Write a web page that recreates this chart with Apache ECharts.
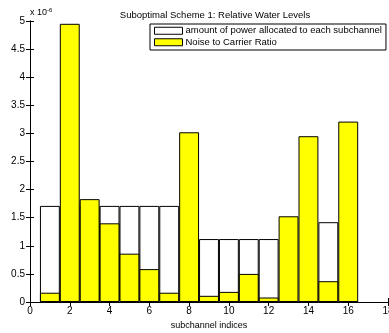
<!DOCTYPE html>
<html>
<head>
<meta charset="utf-8">
<script src="https://cdn.jsdelivr.net/npm/echarts@6/dist/echarts.min.js"></script>
<style>
 html, body { margin: 0; padding: 0; background: #fff; }
 #chart { width: 389px; height: 333px; }
</style>
</head>
<body>
<div id="chart"></div>
<script>
// values in units of 1e-6
const subchannels = [1, 2, 3, 4, 5, 6, 7, 8, 9, 10, 11, 12, 13, 14, 15, 16];
const noiseToCarrier = [0.165, 4.95, 1.83, 1.40, 0.86, 0.585, 0.165, 3.02, 0.11, 0.18, 0.50, 0.08, 1.525, 2.95, 0.37, 3.21];
// water level reached by power + NCR (top of the white bars)
const waterLevel = [1.71, 0, 1.71, 1.71, 1.71, 1.71, 1.71, 0, 1.12, 1.12, 1.12, 1.12, 0, 0, 1.42, 0];

const font = 'Liberation Sans, Arial, sans-serif';
const chart = echarts.init(document.getElementById('chart'), null, { renderer: 'canvas' });

const pairs = (vals) => subchannels.map((x, i) => [x, vals[i]]);

const xAxisBase = {
 type: 'value',
 min: 0,
 max: 18,
 interval: 2,
 axisLine: { show: true, lineStyle: { color: '#000', width: 1 } },
 axisTick: { show: true, inside: true, length: 4, lineStyle: { color: '#000' } },
 splitLine: { show: false },
};

const yAxisBase = {
 type: 'value',
 min: 0,
 max: 5,
 interval: 0.5,
 axisLine: { show: true, lineStyle: { color: '#000', width: 1 } },
 axisTick: { show: true, inside: true, length: 4, lineStyle: { color: '#000' } },
 splitLine: { show: false },
};

chart.setOption({
 backgroundColor: '#fff',
 animation: false,
 title: {
  text: 'Suboptimal Scheme 1: Relative Water Levels',
  left: 210,
  textAlign: 'center',
  top: 5,
  textStyle: { color: '#000', fontSize: 9.5, fontWeight: 'normal', fontFamily: font },
 },
 grid: { left: 30, right: 1, top: 21, bottom: 31, outerBoundsMode: 'none' },
 legend: {
  data: ['amount of power allocated to each subchannel', 'Noise to Carrier Ratio'],
  orient: 'vertical',
  left: 150,
  top: 24,
  padding: [1, 4, 2, 4],
  itemGap: 0,
  itemWidth: 28,
  itemHeight: 7,
  icon: 'rect',
  backgroundColor: '#fff',
  borderColor: '#000',
  borderWidth: 1,
  borderRadius: 0,
  itemStyle: { borderWidth: 1, borderColor: '#000' },
  textStyle: { color: '#000', fontSize: 9.5, lineHeight: 11.5, fontFamily: font, padding: [0, 0, 0, -2] },
 },
 xAxis: [
  {
   ...xAxisBase,
   position: 'bottom',
   name: 'subchannel indices',
   nameLocation: 'middle',
   nameGap: 18,
   nameTextStyle: { color: '#000', fontSize: 9, fontFamily: font },
   axisLabel: { color: '#000', fontSize: 10, fontFamily: font, margin: 4 },
  },
  { ...xAxisBase, position: 'top', axisLabel: { show: false } },
 ],
 yAxis: [
  {
   ...yAxisBase,
   position: 'left',
   axisLabel: { color: '#000', fontSize: 10, fontFamily: font, margin: 5 },
  },
  { ...yAxisBase, position: 'right', axisLabel: { show: false } },
 ],
 graphic: [
  {
   type: 'text',
   left: 30,
   top: 7,
   style: {
    text: 'x 10{s|-6}',
    fill: '#000',
    font: '9px ' + font,
    rich: { s: { fontSize: 6, verticalAlign: 'top', padding: [0, 0, 6, 0] } },
   },
  },
 ],
 series: [
  {
   name: 'amount of power allocated to each subchannel',
   type: 'bar',
   barWidth: 19.9,
   barGap: '-100%',
   itemStyle: { color: '#fff', borderColor: '#000', borderWidth: 1 },
   data: pairs(waterLevel),
  },
  {
   name: 'Noise to Carrier Ratio',
   type: 'bar',
   barWidth: 19.9,
   barGap: '-100%',
   itemStyle: { color: '#ffff00', borderColor: '#000', borderWidth: 1 },
   data: pairs(noiseToCarrier),
  },
 ],
});
</script>
</body>
</html>
